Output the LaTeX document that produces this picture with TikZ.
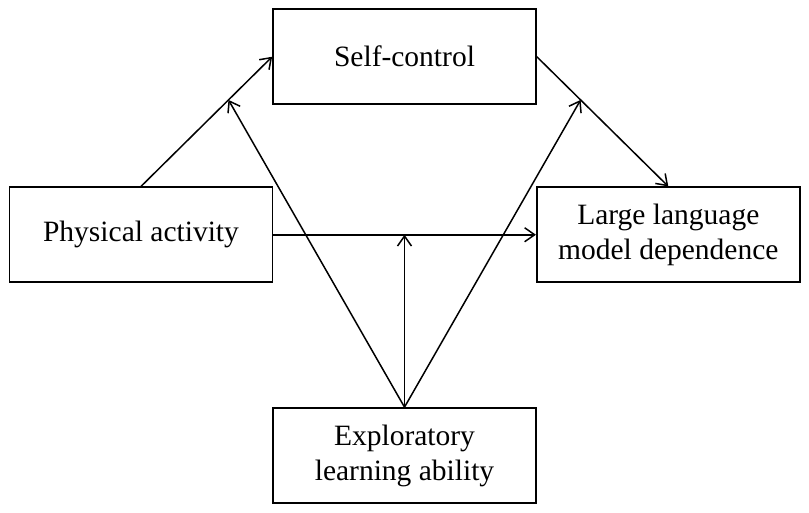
\documentclass[tikz,border=0pt]{standalone}
\usepackage{fontspec}
\setmainfont{Liberation Serif}
\usetikzlibrary{arrows.meta,calc}
\begin{document}
\begin{tikzpicture}[x=1pt,y=-1pt,
  box/.style={draw,line width=1.7pt,minimum width=263pt,minimum height=95pt,align=center,inner sep=0pt,
    font=\fontsize{29.5}{35}\selectfont},
  link/.style={line width=1.5pt,-{Straight Barb[length=10pt,width=14pt,line width=1.5pt]}}]
\useasboundingbox (0,0) rectangle (809,512);
\node[box] (SC) at (404.5,56.75) {Self-control};
\node[box] (PA) at (141,234.75) {Physical activity};
\node[box] (LLM) at (668.3,234.75) {Large language\\model dependence};
\node[box] (EL) at (404.5,455.5) {Exploratory\\learning ability};
\draw[link] (PA.north) -- (SC.west);
\draw[link] (SC.east) -- (LLM.north);
\draw[link] (PA.east) -- (LLM.west);
\coordinate (ma) at ($(PA.north)!0.667!(SC.west)$);
\coordinate (mb) at ($(SC.east)!0.333!(LLM.north)$);
\coordinate (mc) at (EL.north |- PA.east);
\draw[link] (EL.north) -- (ma);
\draw[link] (EL.north) -- (mb);
\draw[link] (EL.north) -- (mc);
\end{tikzpicture}
\end{document}
